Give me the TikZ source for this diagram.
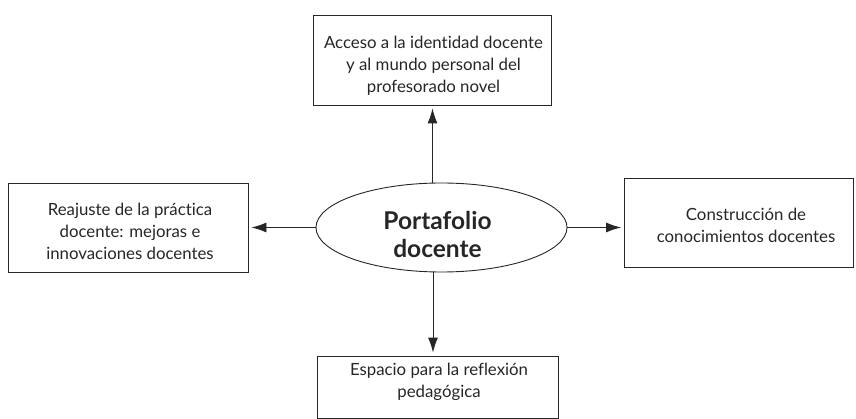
\documentclass[tikz,border=0pt]{standalone}
\usepackage{fontspec}
\setmainfont{Lato}[Ligatures=NoCommon]
\usetikzlibrary{arrows.meta,shapes.geometric}
\begin{document}
\begin{tikzpicture}[x=1pt,y=-1pt,
  box/.style={draw=black!85,line width=0.9pt,inner sep=0pt},
  txt/.style={align=center,inner sep=0pt,font=\fontsize{16.8}{22}\selectfont,text=black!85},
  arr/.style={draw=black!85,line width=0.9pt,shorten >=3pt,-{Latex[length=15pt,width=10pt]}}]
\useasboundingbox (0,0) rectangle (856,419);
% boxes
\node[box,minimum width=238,minimum height=90] (t) at (432,60) {};
\node[box,minimum width=240,minimum height=89] (l) at (128,228) {};
\node[box,minimum width=229,minimum height=89] (r) at (739,222.5) {};
\node[box,minimum width=241,minimum height=62] (b) at (437.5,387) {};
\node[draw=black!85,line width=0.9pt,ellipse,minimum width=251,minimum height=89,inner sep=0pt] (e) at (441.5,227.5) {};
% texts
\node[txt] (tt) at (433.5,66) {Acceso a la identidad docente\\y al mundo personal del\\profesorado novel};
\node[txt] (lt) at (130,231.5) {Reajuste de la práctica\\docente: mejoras e\\innovaciones docentes};
\node[txt] (rt) at (746,225) {Construcción de\\conocimientos docentes};
\node[txt] (bt) at (439,382) {Espacio para la reflexión\\pedagógica};
\node[align=center,inner sep=0pt,font=\fontsize{24.5}{28}\selectfont\bfseries,text=black!85] (et) at (437.5,234) {Portafolio\\docente};
% connectors
\draw[arr] ([xshift=-9pt]e.north) -- ([xshift=-9pt]e.north |- t.south);
\draw[arr] ([xshift=-8.5pt]e.south) -- ([xshift=-8.5pt]e.south |- b.north);
\draw[arr] (e.west) -- (l.east |- e.west);
\draw[arr] (e.east) -- (r.west |- e.east);
\end{tikzpicture}
\end{document}
